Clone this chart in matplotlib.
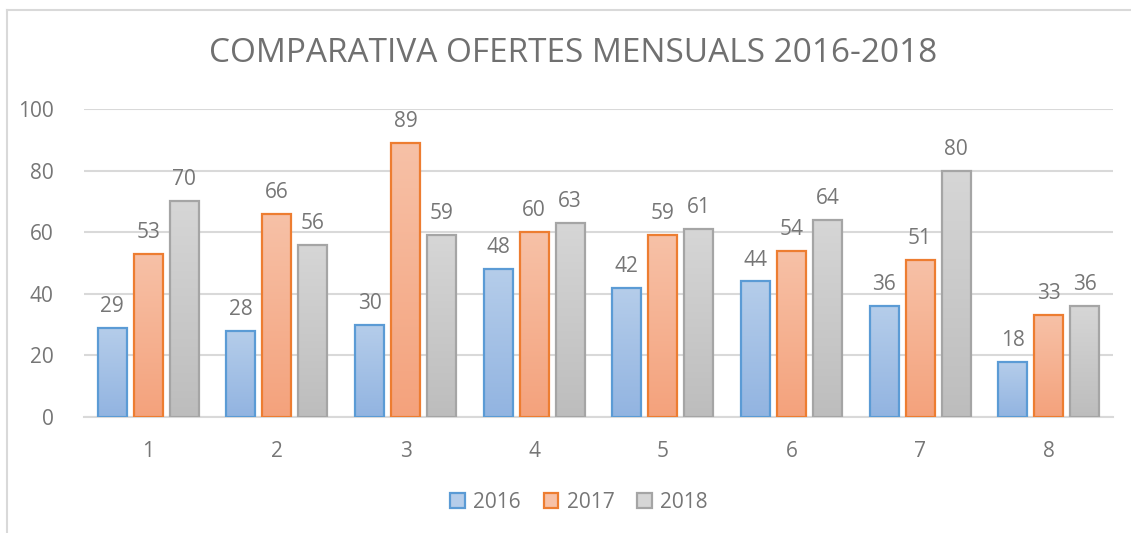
import matplotlib.pyplot as plt
from matplotlib.colors import LinearSegmentedColormap
from matplotlib.lines import Line2D
import numpy as np

# Dades
months = ['1', '2', '3', '4', '5', '6', '7', '8']
years = ['2016', '2017', '2018']
ofertes_2016 = [29, 28, 30, 48, 42, 44, 36, 18]
ofertes_2017 = [53, 66, 89, 60, 59, 54, 51, 33]
ofertes_2018 = [70, 56, 59, 63, 61, 64, 80, 36]
y_ticks = [0, 20, 40, 60, 80, 100]

series = [ofertes_2016, ofertes_2017, ofertes_2018]
edge_cols = ['#5b9bd5', '#ed7d31', '#a5a5a5']
grad_cols = [('#b5cdea', '#92b4e1'), ('#f7c1a7', '#f4a27c'), ('#d6d6d6', '#bdbdbd')]
txt_col = '#767676'
grid_col = '#d9d9d9'

plt.rcParams['font.family'] = ['Open Sans', 'DejaVu Sans']

fig = plt.figure(figsize=(11.31, 5.33), dpi=100)
ax = fig.add_axes([84/1131, 116/533, 1029/1131, 308/533])

x = np.arange(len(months))
width = 0.226
offsets = [-0.28, 0, 0.28]

grad = np.linspace(0, 1, 100).reshape(-1, 1)
for vals, off, ec, gc in zip(series, offsets, edge_cols, grad_cols):
    cmap = LinearSegmentedColormap.from_list('g', [gc[1], gc[0]])
    bars = ax.bar(x + off, vals, width, facecolor='none', edgecolor=ec, linewidth=1.6, zorder=3)
    for b, v in zip(bars, vals):
        x0 = b.get_x()
        im = ax.imshow(grad, extent=[x0, x0 + width, 0, v], origin='lower', aspect='auto',
                       cmap=cmap, zorder=2)
        im.set_clip_path(b)
        ax.annotate(str(v), (x0 + width / 2, v), xytext=(0, 11.5), textcoords='offset points',
                    ha='center', va='baseline', fontsize=15, color=txt_col)

ax.set_xlim(-0.5, len(months) - 0.5)
ax.set_ylim(0, 100)
ax.set_yticks(y_ticks)
ax.set_xticks(x)
ax.set_xticklabels(months)
ax.tick_params(axis='both', length=0, labelsize=15, labelcolor=txt_col)
ax.tick_params(axis='y', pad=22)
ax.tick_params(axis='x', pad=17)
ax.grid(axis='y', color=grid_col, linewidth=1.5, zorder=0)
ax.set_axisbelow(True)
for s in ['top', 'right', 'left']:
    ax.spines[s].set_visible(False)
ax.spines['bottom'].set_color(grid_col)
ax.spines['bottom'].set_linewidth(1.5)

fig.text(0.507, 0.90, 'COMPARATIVA OFERTES MENSUALS 2016-2018', ha='center', va='center',
         fontsize=24, color='#707070')

handles = [plt.Rectangle((0, 0), 1, 1, facecolor=gc[0], edgecolor=ec, linewidth=1.6)
           for gc, ec in zip(grad_cols, edge_cols)]
fig.legend(handles, years, loc='center', bbox_to_anchor=(0.512, 0.058), ncol=3, frameon=False,
           fontsize=15, labelcolor=txt_col, handlelength=0.7, handleheight=0.7,
           handletextpad=0.4, columnspacing=1.1)

# vora del grafic
fig.add_artist(Line2D([7/1131, 7/1131], [0, 1 - 10/533], color=grid_col, linewidth=1.5))
fig.add_artist(Line2D([7/1131, 1], [1 - 10/533, 1 - 10/533], color=grid_col, linewidth=1.5))

fig.savefig('out.png', dpi=100)
